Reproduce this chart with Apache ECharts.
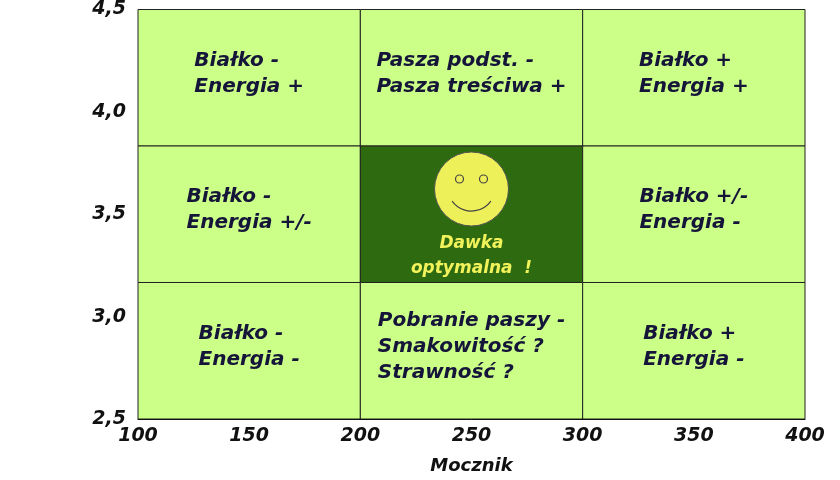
<!DOCTYPE html>
<html><head><meta charset="utf-8">
<script src="https://cdn.jsdelivr.net/npm/echarts@6/dist/echarts.min.js"></script>
<style>html,body{margin:0;background:#fff}#c{width:840px;height:480px}</style>
</head><body><div id="c"></div>
<script>
const xTicks = [100, 150, 200, 250, 300, 350, 400];
const yTicks = [2.5, 3.0, 3.5, 4.0, 4.5];
const xEdges = [100, 200, 300, 400];
const yEdges = [2.5, 3.1667, 3.8333, 4.5];
const cellLabels = [
  [0, 2, 'Białko -\nEnergia +', 0],
  [1, 2, 'Pasza podst. -\nPasza treściwa +', 0],
  [2, 2, 'Białko +\nEnergia +', 0],
  [0, 1, 'Białko -\nEnergia +/-', 0],
  [1, 1, 'Dawka\noptymalna  !', 1],
  [2, 1, 'Białko +/-\nEnergia -', 0],
  [0, 0, 'Białko -\nEnergia -', 0],
  [1, 0, 'Pobranie paszy -\nSmakowitość ?\nStrawność ?', 0],
  [2, 0, 'Białko +\nEnergia -', 0]
];
const FONT = 'italic bold 20px "DejaVu Sans"';
const mctx = document.createElement('canvas').getContext('2d');
function textW(t, f) { mctx.font = f; return Math.max(...t.split('\n').map(l => mctx.measureText(l).width)); }

const chart = echarts.init(document.getElementById('c'));
const axisLabel = { fontFamily: 'DejaVu Sans', fontWeight: 'bold', fontStyle: 'italic', fontSize: 19, color: '#111' };
chart.setOption({
  animation: false,
  grid: { left: 138, right: 35, top: 3, bottom: 50 },
  xAxis: { type: 'value', min: 100, max: 400, interval: 50, name: 'Mocznik', nameLocation: 'middle', nameGap: 38,
    nameTextStyle: { ...axisLabel, fontSize: 18 },
    axisLine: { lineStyle: { color: '#000' } }, axisTick: { show: false }, splitLine: { show: false },
    axisLabel: { ...axisLabel, margin: 8 } },
  yAxis: { type: 'value', min: 2.5, max: 4.5, interval: 0.5,
    axisLine: { show: true, lineStyle: { color: '#000' } }, axisTick: { show: false }, splitLine: { show: false },
    axisLabel: { ...axisLabel, margin: 12, formatter: v => v.toFixed(1).replace('.', ',') } },
  series: [{
    type: 'custom',
    data: cellLabels.map(c => [xEdges[c[0]], xEdges[c[0] + 1], yEdges[c[1]], yEdges[c[1] + 1], c[2], c[3]]),
    renderItem: (params, api) => {
      const p0 = api.coord([api.value(0), api.value(2)]);
      const p1 = api.coord([api.value(1), api.value(3)]);
      const x = p0[0], y = p1[1], w = p1[0] - p0[0], h = p0[1] - p1[1];
      const txt = cellLabels[params.dataIndex][2];
      const opt = cellLabels[params.dataIndex][3];
      const cx = x + w / 2, cy = y + h / 2;
      const children = [{ type: 'rect', shape: { x, y, width: w, height: h },
        style: { fill: opt ? '#2d6a10' : '#ccff88', stroke: '#222', lineWidth: 1 } }];
      if (opt) {
        const sx = cx, sy = y + 43, r = 37;
        children.push(
          { type: 'circle', shape: { cx: sx, cy: sy, r }, style: { fill: '#eef05a', stroke: '#555', lineWidth: 1 } },
          { type: 'circle', shape: { cx: sx - 12, cy: sy - 10, r: 4 }, style: { fill: 'none', stroke: '#444', lineWidth: 1.2 } },
          { type: 'circle', shape: { cx: sx + 12, cy: sy - 10, r: 4 }, style: { fill: 'none', stroke: '#444', lineWidth: 1.2 } },
          { type: 'arc', shape: { cx: sx, cy: sy - 2, r: 24, startAngle: Math.PI * 0.2, endAngle: Math.PI * 0.8 }, style: { fill: 'none', stroke: '#444', lineWidth: 1.2 } },
          { type: 'text', style: { text: txt, x: cx, y: y + 110, align: 'center', verticalAlign: 'middle',
            font: 'italic bold 17px "DejaVu Sans"', lineHeight: 25, fill: '#f2f25a' } }
        );
      } else {
        const tw = textW(txt, FONT);
        children.push({ type: 'text', style: { text: txt, x: cx - tw / 2, y: cy - 4, align: 'left', verticalAlign: 'middle',
          font: FONT, lineHeight: 26, fill: '#15153a' } });
      }
      return { type: 'group', children };
    }
  }]
});
</script></body></html>
